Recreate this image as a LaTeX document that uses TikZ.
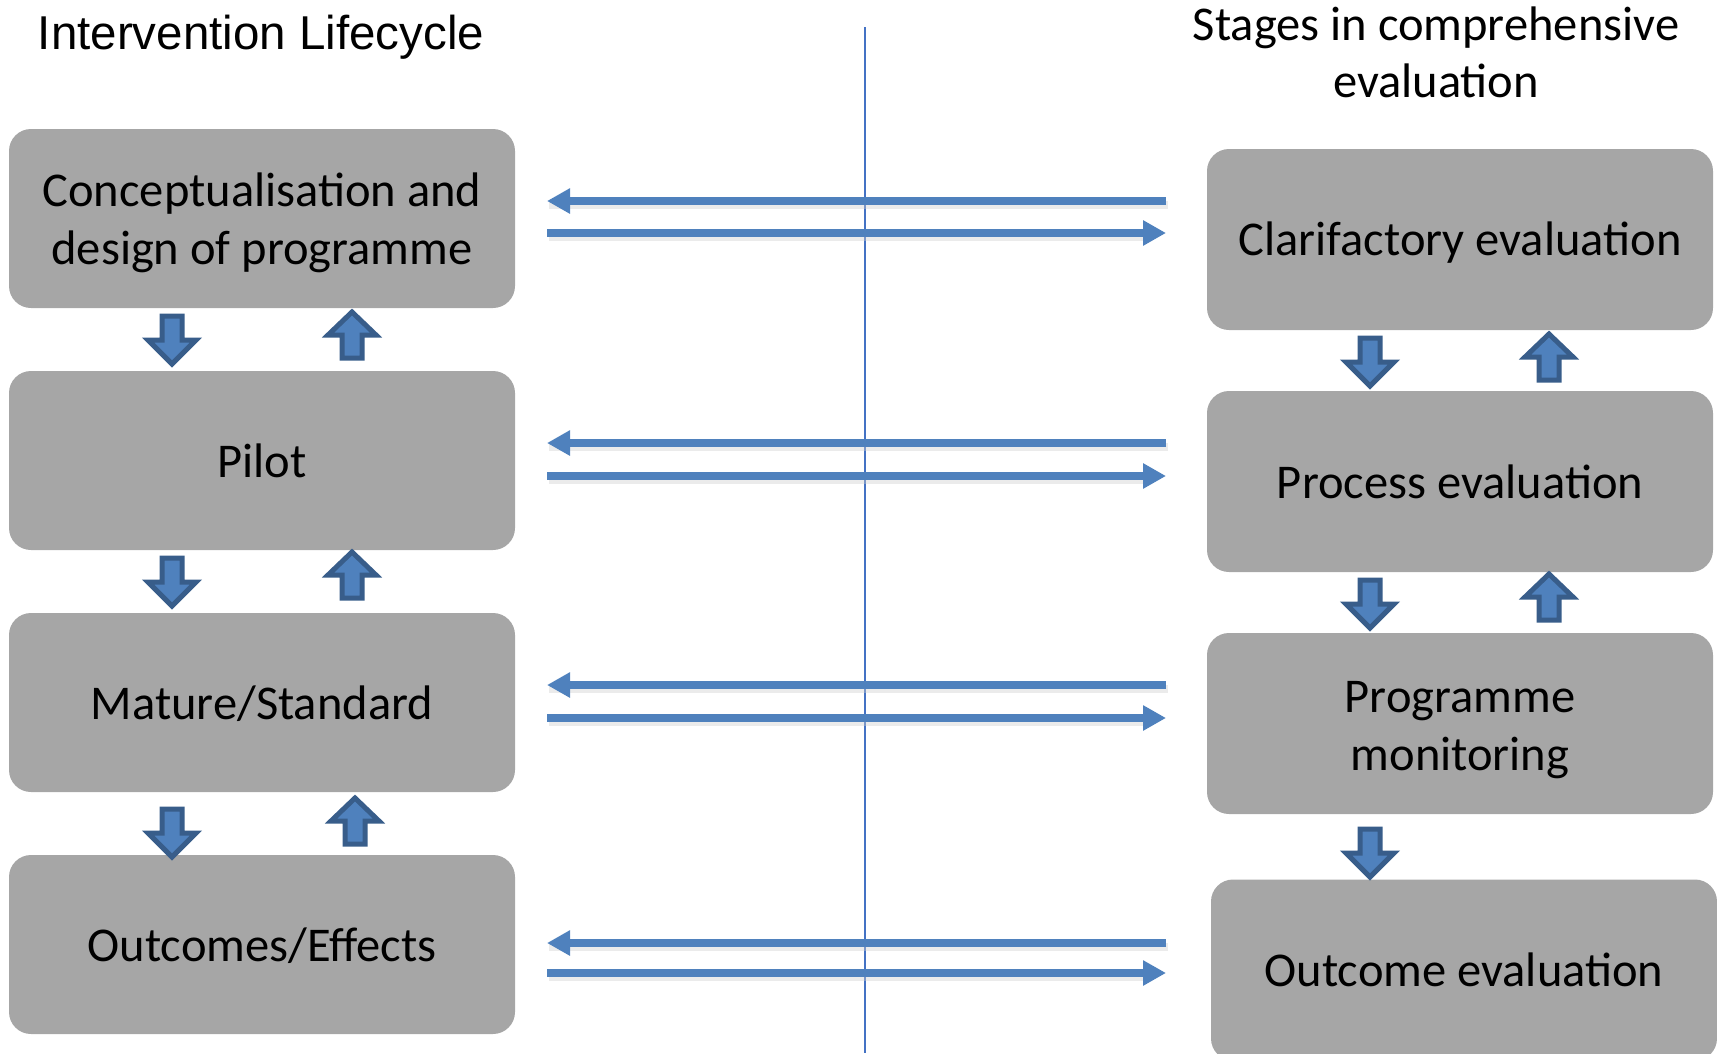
\documentclass[tikz,border=0pt]{standalone}
\usepackage{fontspec}
\setmainfont{Carlito}
\newfontfamily\arialf{Liberation Sans}
\usetikzlibrary{arrows.meta}
\definecolor{boxgray}{HTML}{A6A6A6}
\definecolor{arrfill}{HTML}{4F81BD}
\definecolor{arrdraw}{HTML}{385D8A}
\definecolor{vline}{HTML}{4472C4}
\tikzset{
  stagebox/.style={fill=boxgray, rounded corners=22pt, draw=none, align=center,
    font=\fontsize{48.5}{58}\selectfont, inner sep=0pt},
  boxtext/.style={align=center, font=\fontsize{48.5}{58}\selectfont, inner sep=0pt},
  harrow/.style={draw=arrfill, line width=8pt, -{Triangle[length=23pt,width=24pt]}},
  hshadow/.style={draw=black!20, line width=8pt, opacity=0.4},
  blockarr/.style={fill=arrfill, draw=arrdraw, line width=5pt, line join=miter},
  darrow/.pic={\path[blockarr] (-10,2) -- (10,2) -- (10,26) -- (24,26) -- (0,50) -- (-24,26) -- (-10,26) -- cycle;},
  uarrow/.pic={\path[blockarr] (-10,-2) -- (10,-2) -- (10,-25) -- (24,-25) -- (0,-48) -- (-24,-25) -- (-10,-25) -- cycle;},
  titletext/.style={align=center, inner sep=0pt}
}
\begin{document}
\begin{tikzpicture}[x=1pt,y=-1pt]
\useasboundingbox (0,0) rectangle (1717,1053);
\begin{scope}
\clip (0,0) rectangle (1717,1053);
% titles
\node[titletext, font=\arialf\fontsize{47.5}{55}\selectfont] (t1) at (261,37) {Intervention Lifecycle};
\node[titletext, font=\fontsize{48.5}{57}\selectfont] (t2) at (1436,52) {Stages in comprehensive\\evaluation};
% vertical line
\coordinate (vtop) at (865,27);
\coordinate (vbot) at (865,1053);
\draw[vline, line width=1.5pt] (vtop) -- (vbot);
% left boxes
\node[stagebox, minimum width=506pt, minimum height=179pt] (L1) at (262,218.5) {};
\node[boxtext] (L1t) at ([yshift=-4.5pt]L1.center) {Conceptualisation and\\design of programme};
\node[stagebox, minimum width=506pt, minimum height=179pt] (L2) at (262,460.5) {Pilot};
\node[stagebox, minimum width=506pt, minimum height=179pt, text height=36pt] (L3) at (262,702.5) {Mature/Standard};
\node[stagebox, minimum width=506pt, minimum height=179pt, text height=36pt] (L4) at (262,944.5) {Outcomes/Effects};
% right boxes
\node[stagebox, minimum width=506pt, minimum height=181pt, text height=40pt] (R1) at (1460,239.5) {Clarifactory evaluation};
\node[stagebox, minimum width=506pt, minimum height=181pt] (R2) at (1460,481.5) {Process evaluation};
\node[stagebox, minimum width=506pt, minimum height=181pt] (R3) at (1460,723.5) {};
\node[boxtext] (R3t) at ([yshift=-6.5pt]R3.center) {Programme\\monitoring};
\node[stagebox, minimum width=506pt, minimum height=181pt] (R4) at (1464,970) {Outcome evaluation};
% horizontal arrows
\foreach \ya/\yb [count=\i] in {201/233, 443/476, 685/718, 943/973} {
  \coordinate (la\i) at (547,\ya);
  \coordinate (ra\i) at (1166,\ya);
  \coordinate (lb\i) at (547,\yb);
  \coordinate (rb\i) at (1166,\yb);
  \draw[hshadow] ([shift={(2,4)}]la\i) -- ([shift={(2,4)}]ra\i);
  \draw[hshadow] ([shift={(2,4)}]lb\i) -- ([shift={(-20,4)}]rb\i);
  \draw[harrow] (ra\i) -- (la\i);
  \draw[harrow] (lb\i) -- (rb\i);
}
% block arrows left
\pic at (172,314) {darrow};
\pic at (172,556) {darrow};
\pic at (172,807) {darrow};
\pic at (352,360) {uarrow};
\pic at (352,600) {uarrow};
\pic at (355,846) {uarrow};
% block arrows right
\pic at (1370,336) {darrow};
\pic at (1370,578) {darrow};
\pic at (1370,827) {darrow};
\pic at (1549,382) {uarrow};
\pic at (1549,622) {uarrow};
\end{scope}
\end{tikzpicture}
\end{document}
